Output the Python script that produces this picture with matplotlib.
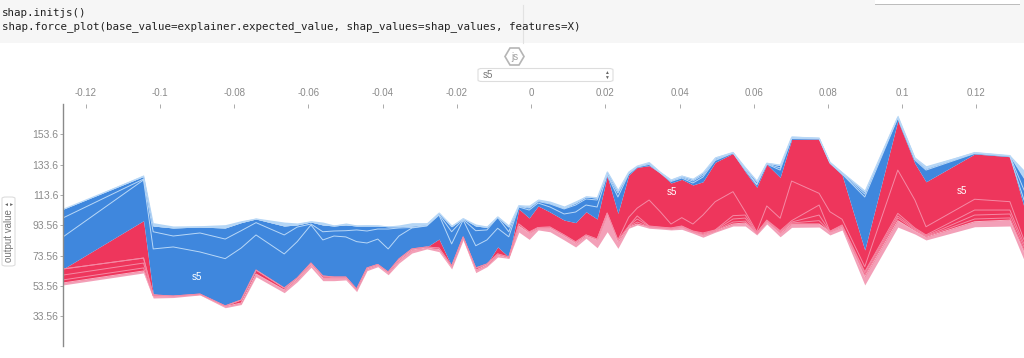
import matplotlib
matplotlib.use('Agg')
import matplotlib.pyplot as plt
from matplotlib.patches import FancyBboxPatch, Polygon, Rectangle
from matplotlib.lines import Line2D

nan = float('nan')

# Eixo x: valor da feature s5
s5 = [-0.1261, -0.1044, -0.1018, -0.0964, -0.0892, -0.0824, -0.0781, -0.0741, -0.0665, -0.0630,
      -0.0593, -0.0561, -0.0531, -0.0499, -0.0470, -0.0442, -0.0413, -0.0385, -0.0356, -0.0321,
      -0.0281, -0.0248, -0.0214, -0.0183, -0.0149, -0.0119, -0.0090, -0.0060, -0.0033, -0.0005,
      0.0019, 0.0051, 0.0089, 0.0120, 0.0148, 0.0178, 0.0205, 0.0234, 0.0263, 0.0286,
      0.0318, 0.0348, 0.0377, 0.0406, 0.0436, 0.0463, 0.0496, 0.0544, 0.0577, 0.0608,
      0.0635, 0.0671, 0.0702, 0.0776, 0.0805, 0.0838, 0.0899, 0.0988, 0.1034, 0.1064,
      0.1195, 0.1290, 0.1328]

# Limites das bandas empilhadas (output value)
bottom = [54.3, 62.2, 45.7, 46.0, 47.7, 39.3, 41.4, 59.7, 49.2, 56.4,
          65.9, 57.1, 57.1, 57.6, 49.9, 63.7, 66.3, 61.0, 68.7, 75.3,
          78.0, 76.2, 64.8, 83.9, 62.4, 66.3, 72.7, 71.8, 89.1, 84.3,
          90.5, 89.3, 83.9, 79.3, 85.0, 78.8, 89.3, 78.4, 91.6, 93.8,
          91.6, 91.1, 90.5, 90.9, 88.3, 85.7, 89.0, 93.1, 93.1, 87.2,
          94.4, 86.0, 92.2, 92.4, 87.2, 90.5, 54.3, 92.4, 87.8, 83.9,
          92.6, 93.1, 70.7]
pink_top = [55.6, 63.5, 47.0, 46.7, 48.0, 40.1, 42.4, 61.5, 51.0, 58.2,
            68.1, 58.9, 58.9, 58.9, 51.0, 64.8, 67.4, 62.2, 70.7, 77.3,
            78.6, 77.6, 66.1, 85.2, 64.1, 67.4, 74.0, 72.0, 93.1, 88.5,
            91.8, 91.8, 86.5, 81.9, 86.5, 83.9, 101.0, 82.8, 92.4, 94.4,
            92.4, 91.8, 91.1, 92.4, 89.1, 87.2, 89.8, 94.4, 95.1, 88.2,
            95.9, 88.3, 94.4, 94.4, 89.3, 92.4, 59.7, 96.6, 89.8, 85.7,
            95.9, 97.0, 76.0]
# Dois separadores finos dentro das features vermelhas pequenas (so onde aparecem)
red_low = [57.6, 65.5, 47.4, nan, nan, nan, nan, nan, nan, nan,
           nan, nan, nan, nan, nan, nan, nan, nan, nan, nan,
           nan, nan, nan, nan, nan, nan, nan, nan, nan, nan,
           nan, nan, nan, nan, nan, nan, nan, nan, 92.8, 95.7,
           92.6, 92.0, 91.3, 92.6, 89.3, 87.5, 90.0, 95.7, 96.3, 88.3,
           96.2, 88.8, 95.1, 96.6, 89.4, 92.9, 60.8, 98.4, 90.5, 86.2,
           97.7, 98.4, 77.3]
red_mid = [60.8, 68.7, 47.7, nan, nan, nan, nan, nan, nan, nan,
           nan, nan, nan, nan, nan, nan, nan, nan, nan, nan,
           nan, nan, nan, nan, nan, nan, nan, nan, nan, nan,
           nan, nan, nan, nan, nan, nan, nan, nan, 93.1, 97.7,
           92.9, 92.2, 91.6, 92.9, 89.6, 87.8, 90.3, 97.7, 98.3, 88.4,
           96.6, 89.3, 95.7, 100.3, 89.5, 93.3, 62.2, 99.7, 91.1, 86.6,
           100.3, 101.0, 79.3]
red_small = [64.8, 72.0, 47.7, 47.0, 48.3, 40.5, 44.4, 64.1, 52.3, 58.9,
             68.7, 60.2, 59.5, 59.5, 51.6, 65.5, 67.8, 62.8, 71.4, 78.0,
             79.3, 78.6, 66.8, 85.9, 65.5, 68.1, 74.7, 72.7, 94.4, 89.1,
             92.1, 92.4, 87.2, 82.6, 87.2, 84.5, 101.6, 83.9, 93.1, 99.7,
             93.1, 92.4, 91.8, 93.1, 89.8, 88.5, 90.5, 99.9, 100.3, 88.5,
             97.0, 90.0, 96.6, 106.9, 89.6, 93.8, 63.0, 101.4, 91.8, 87.2,
             103.6, 103.6, 81.3]
red_big = [64.8, 72.0, 47.7, 47.0, 48.3, 40.5, 44.4, 64.1, 52.3, 58.9,
           68.7, 60.2, 59.5, 59.5, 51.6, 65.5, 67.8, 62.8, 71.4, 78.0,
           79.3, 78.6, 66.8, 85.9, 65.5, 68.1, 74.7, 72.7, 94.4, 89.1,
           92.1, 92.4, 87.2, 82.6, 87.2, 84.5, 101.6, 83.9, 98.8, 104.9,
           110.2, 102.5, 94.4, 98.6, 94.4, 100.3, 109.1, 115.7, 102.5, 89.3,
           106.3, 98.2, 122.7, 114.6, 102.5, 97.5, 66.3, 129.9, 110.2, 92.6,
           110.7, 109.1, 83.9]
red_top = [64.8, 96.6, 48.3, 47.0, 48.3, 40.5, 44.7, 64.1, 52.3, 58.9,
           68.7, 60.2, 59.5, 59.5, 51.6, 65.5, 67.8, 62.8, 71.4, 78.0,
           79.3, 84.5, 66.8, 85.9, 65.5, 68.1, 79.3, 72.7, 104.3, 98.4,
           106.3, 102.3, 97.0, 95.3, 102.5, 97.7, 126.0, 101.4, 126.6, 131.7,
           132.8, 128.0, 121.4, 123.8, 120.1, 122.2, 135.0, 140.9, 128.8, 118.6,
           133.7, 125.1, 150.1, 150.3, 134.3, 126.6, 77.3, 162.4, 134.3, 122.2,
           140.5, 138.7, 105.6]
blue_big = [85.9, 123.4, 78.0, 79.3, 76.0, 71.6, 78.6, 87.2, 74.7, 82.8,
            93.8, 83.9, 86.5, 85.9, 82.8, 81.9, 84.5, 78.0, 86.5, 91.8,
            93.1, 100.3, 81.3, 97.0, 80.1, 83.9, 91.6, 86.0, 105.6, 103.6,
            108.2, 105.6, 101.0, 102.3, 106.9, 105.6, 126.7, 112.2, 127.3, 131.9,
            133.6, 128.0, 122.4, 124.7, 121.4, 125.3, 136.2, 141.1, 129.9, 120.1,
            133.9, 129.9, 150.7, 150.5, 134.5, 127.3, 112.2, 164.2, 136.5, 129.9,
            140.8, 138.9, 110.2]
blue_small = [98.4, 124.0, 89.3, 86.5, 88.5, 84.5, 90.0, 95.3, 87.2, 92.4,
              94.4, 89.3, 89.8, 90.0, 90.5, 89.8, 91.1, 91.1, 91.8, 92.1,
              93.4, 100.7, 89.3, 97.4, 90.0, 90.5, 98.7, 89.3, 105.9, 104.9,
              109.2, 107.6, 104.3, 106.9, 110.9, 110.2, 127.3, 114.8, 127.9, 132.2,
              134.2, 128.3, 123.0, 125.3, 122.7, 126.6, 136.8, 141.3, 130.6, 120.7,
              134.2, 131.3, 151.0, 150.7, 134.9, 127.6, 114.1, 164.5, 137.2, 130.6,
              141.1, 139.2, 116.8]
blue_top = [104.1, 125.7, 93.1, 91.8, 92.4, 91.8, 95.3, 97.7, 93.1, 93.8,
            95.7, 93.8, 93.1, 93.8, 93.1, 93.1, 93.1, 92.6, 92.6, 93.1,
            94.1, 101.6, 92.6, 98.0, 93.1, 92.2, 99.1, 92.4, 106.6, 105.6,
            109.9, 108.2, 104.9, 108.2, 112.2, 111.5, 128.6, 116.1, 128.6, 132.6,
            134.9, 128.6, 123.4, 126.0, 123.7, 128.0, 137.8, 141.6, 131.3, 122.4,
            134.5, 132.9, 151.7, 151.0, 135.2, 128.3, 115.5, 165.0, 137.8, 131.3,
            141.5, 139.5, 124.7]
top = [104.3, 126.8, 95.3, 93.1, 93.3, 94.0, 96.6, 98.4, 95.7, 95.1,
       96.6, 95.7, 93.8, 95.1, 93.8, 94.0, 93.8, 93.1, 93.8, 95.3,
       95.3, 102.3, 93.8, 98.5, 94.4, 93.1, 99.7, 93.8, 106.9, 106.9,
       110.9, 109.5, 106.3, 109.7, 113.0, 112.4, 129.5, 117.4, 129.3, 132.8,
       135.4, 128.8, 124.0, 126.6, 124.5, 128.8, 138.7, 142.0, 132.1, 123.4,
       135.0, 133.9, 152.3, 151.5, 135.4, 128.8, 116.8, 166.1, 138.5, 132.8,
       142.0, 139.8, 129.9]

x_ticks = [-0.12, -0.1, -0.08, -0.06, -0.04, -0.02, 0, 0.02, 0.04, 0.06, 0.08, 0.1, 0.12]
x_labels = ['-0.12', '-0.1', '-0.08', '-0.06', '-0.04', '-0.02', '0', '0.02', '0.04', '0.06', '0.08', '0.1', '0.12']
y_ticks = [33.56, 53.56, 73.56, 93.56, 113.56, 133.56, 153.56]
y_labels = ['33.56', '53.56', '73.56', '93.56', '113.6', '133.6', '153.6']

RED = '#ee365c'
BLUE = '#3f87dd'
GREY = '#8a8a8a'

plt.rcParams['font.family'] = ['Liberation Sans', 'DejaVu Sans']

W, H = 1024, 358
fig = plt.figure(figsize=(W / 100, H / 100), dpi=100)


def fx(px):
    return px / W


def fy(py):
    return 1 - py / H


# Fundo da celula de codigo
fig.add_artist(Rectangle((0, fy(43)), 1, 43 / H, transform=fig.transFigure, color='#f6f6f6', lw=0))
fig.add_artist(Line2D([fx(523), fx(523)], [fy(5), fy(43)], color='#e2e2e2', lw=0.8))
fig.text(fx(2), fy(12.5), 'shap.initjs()', family='DejaVu Sans Mono', fontsize=7.8, color='#222222', va='center')
fig.text(fx(2), fy(27), 'shap.force_plot(base_value=explainer.expected_value, shap_values=shap_values, features=X)',
         family='DejaVu Sans Mono', fontsize=7.8, color='#222222', va='center')

# Pedaco do widget no canto superior direito
fig.add_artist(Rectangle((fx(875), fy(5)), 145 / W, 5 / H, transform=fig.transFigure, color='#bdbdbd', lw=0))
fig.add_artist(Rectangle((fx(875), fy(4)), 145 / W, 4 / H, transform=fig.transFigure, color='white', lw=0))

# Hexagono js e dropdown
hexagon = [(505, 56.5), (510, 48), (519, 48), (524, 56.5), (519, 65), (510, 65)]
fig.add_artist(Polygon([(fx(a), fy(b)) for a, b in hexagon], closed=True, transform=fig.transFigure,
                       fc='white', ec='#b5b5b5', lw=1.2))
fig.text(fx(514.5), fy(56.5), 'js', fontsize=7, color='#a0a0a0', ha='center', va='center')

fig.add_artist(FancyBboxPatch((fx(478), fy(81.5)), 135 / W, 13 / H, boxstyle='round,pad=0,rounding_size=0.004',
                              transform=fig.transFigure, fc='white', ec='#dddddd', lw=0.8))
fig.text(fx(483), fy(75), 's5', fontsize=7, color='#777777', va='center')
fig.text(fx(606.5), fy(72.5), '\u25b2', fontsize=3.5, color='#666666', ha='center', va='center')
fig.text(fx(606.5), fy(77.5), '\u25bc', fontsize=3.5, color='#666666', ha='center', va='center')

# Seletor do eixo y
fig.add_artist(FancyBboxPatch((fx(2), fy(266)), 13 / W, 69 / H, boxstyle='round,pad=0,rounding_size=0.004',
                              transform=fig.transFigure, fc='white', ec='#dddddd', lw=0.8))
fig.text(fx(9), fy(236), 'output value', fontsize=7, color='#777777', rotation=90, ha='center', va='center')
fig.text(fx(6.5), fy(204), '\u25b2', fontsize=3.5, color='#666666', ha='center', va='center', rotation=90)
fig.text(fx(11.5), fy(204), '\u25bc', fontsize=3.5, color='#666666', ha='center', va='center', rotation=90)

# Area do grafico
ax = fig.add_axes([fx(63), fy(346), (W - 63) / W, (346 - 104) / H])
ax.set_xlim(-0.1261, 0.1328)
ax.set_ylim(14.1, 173.4)
ax.patch.set_alpha(0)

ax.fill_between(s5, bottom, pink_top, color='#f3a0b8', lw=0)
ax.fill_between(s5, pink_top, red_top, color=RED, lw=0)
ax.fill_between(s5, red_top, blue_top, color=BLUE, lw=0)
ax.fill_between(s5, blue_top, top, color='#b4d6f6', lw=0)

# Separadores entre as features
for limite, cor in [(pink_top, '#f7b3c6'), (red_low, '#f58aa5'), (red_mid, '#f58aa5'),
                    (red_small, '#f58aa5'), (red_big, '#f58aa5'),
                    (blue_big, '#b9d8f7'), (blue_small, '#b9d8f7'), (blue_top, '#b9d8f7')]:
    ax.plot(s5, limite, color=cor, lw=0.7)

# Rotulos s5
ax.text(-0.0900, 59.5, 's5', color='white', fontsize=7, ha='center', va='center')
ax.text(0.038, 115.5, 's5', color='white', fontsize=7, ha='center', va='center')
ax.text(0.1160, 116, 's5', color='white', fontsize=7, ha='center', va='center')

for lado in ['right', 'bottom', 'top']:
    ax.spines[lado].set_visible(False)
ax.spines['left'].set_color(GREY)
ax.spines['left'].set_linewidth(1)

ax.xaxis.tick_top()
ax.set_xticks(x_ticks)
ax.set_xticklabels(x_labels)
ax.tick_params(axis='x', direction='in', length=3, width=0.7, color='#aaaaaa', labelsize=7, labelcolor=GREY, pad=4)
ax.set_yticks(y_ticks)
ax.set_yticklabels(y_labels)
ax.tick_params(axis='y', direction='out', length=2, width=0.7, color='#aaaaaa', labelsize=7.5, labelcolor=GREY, pad=1.5)

fig.savefig('out.png', dpi=100)
